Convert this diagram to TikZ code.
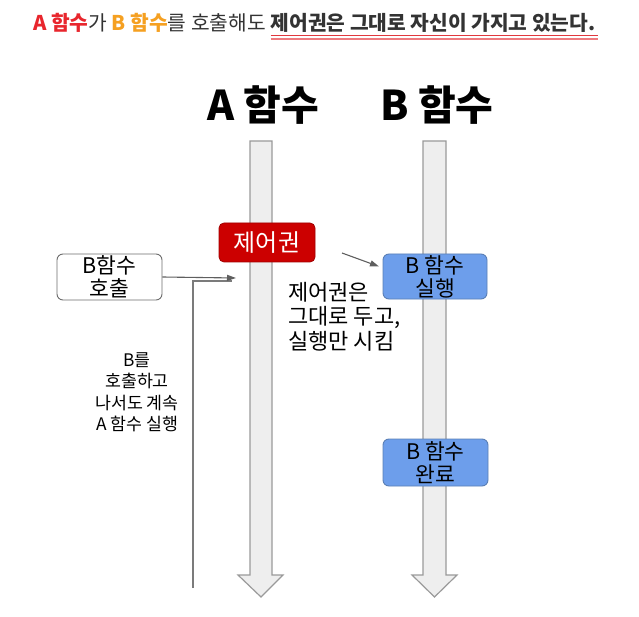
\documentclass[tikz,border=0pt]{standalone}
\usepackage{fontspec}
\setmainfont{Noto Sans CJK KR}
\usetikzlibrary{arrows.meta}
\definecolor{redA}{HTML}{E8262D}
\definecolor{orangeB}{HTML}{F5A021}
\definecolor{txtdark}{HTML}{333333}
\definecolor{ctrlred}{HTML}{CC0000}
\definecolor{ctrledge}{HTML}{A00000}
\definecolor{bblue}{HTML}{6D9EEB}
\definecolor{bedge}{HTML}{5A7FB5}
\definecolor{arrowfill}{HTML}{EEEEEE}
\definecolor{arrowline}{HTML}{9A9A9A}
\definecolor{connline}{HTML}{5F5F5F}
\definecolor{ulred}{HTML}{E0383E}
\definecolor{ulred2}{HTML}{EE7A7E}
\tikzset{
  hdr/.style={inner sep=0pt, font=\fontsize{20.3}{24}\selectfont},
  titletxt/.style={inner sep=0pt, font=\fontsize{41}{46}\selectfont\bfseries},
  flowarrow/.style={draw=arrowline, fill=arrowfill, line width=1.2pt, line join=miter},
  callbox/.style={draw=gray!85!black, fill=white, rounded corners=6pt, line width=0.9pt,
    align=center, inner sep=0pt, font=\fontsize{21.5}{23}\selectfont},
  ctrlbox/.style={draw=ctrledge, fill=ctrlred, rounded corners=5pt, line width=0.8pt,
    text=white, inner sep=0pt, font=\fontsize{24}{27}\selectfont},
  bluebox/.style={draw=bedge, fill=bblue, rounded corners=6pt, line width=0.9pt,
    align=center, inner sep=0pt, font=\fontsize{21.5}{23}\selectfont},
  note/.style={inner sep=0pt, font=\fontsize{22}{24.5}\selectfont},
  sidenote/.style={inner sep=0pt, align=center, font=\fontsize{17.3}{21.5}\selectfont},
  conn/.style={draw=connline, line width=1.1pt, -{Triangle[length=9pt,width=6pt]}},
  plainline/.style={draw=arrowline!80!black, line width=1.2pt},
}
\begin{document}
\begin{tikzpicture}[x=1pt,y=-1pt]
\useasboundingbox (0,0) rectangle (639,617);

% header
\node[hdr, anchor=base west] (h1) at (33,31)
  {{\bfseries\color{redA}A 함수}{\color{txtdark}가 }{\bfseries\color{orangeB}B 함수}{\color{txtdark}를 호출해도 }};
\node[hdr, anchor=base west] (h2) at (h1.base east)
  {\bfseries\color{txtdark}제어권은 그대로 자신이 가지고 있는다.};
\draw[ulred, line width=1.6pt] ([yshift=-4.5pt]h2.base west) -- ([yshift=-4.5pt,xshift=2pt]h2.base east);
\draw[ulred2, line width=1.6pt] ([yshift=-8pt]h2.base west) -- ([yshift=-8pt,xshift=2pt]h2.base east);

% titles
\node[titletxt] (ta) at (263,105) {A 함수};
\node[titletxt] (tb) at (437,105) {B 함수};

% big flow arrows
\draw[flowarrow] (250,141) -- (272,141) -- (272,575) -- (283,575) -- (261,597) -- (238,575) -- (250,575) -- cycle;
\draw[flowarrow] (423,141) -- (446,141) -- (446,575) -- (457,575) -- (434.5,597) -- (412,575) -- (423,575) -- cycle;

% L-shaped line
\coordinate (lbot) at (193,588);
\coordinate (lcorner) at (193,281);
\coordinate (lend) at (232,281);
\draw[plainline] (lbot) -- (lcorner) -- (lend);

% boxes
\node[callbox, minimum width=105pt, minimum height=46pt] (call) at (109.5,277) {B함수\\호출};
\node[ctrlbox, minimum width=96pt, minimum height=39pt] (ctrl) at (267,242.5) {제어권};
\node[bluebox, minimum width=104pt, minimum height=45pt] (run) at (435,276.5) {B 함수\\실행};
\node[bluebox, minimum width=105pt, minimum height=47pt] (done) at (435.5,462.5) {B 함수\\완료};

% connectors
\coordinate (callend) at (236,278);
\draw[conn] (call.east) -- (callend);
\coordinate (s1) at (342,253);
\coordinate (s2) at (379,266.5);
\draw[conn] (s1) -- (s2);

% notes
\node[note, anchor=north west, align=left] (keep) at (288,282) {제어권은\\그대로 두고,\\실행만 시킴};
\node[sidenote] (cont) at (137,392.5) {B를\\호출하고\\나서도 계속\\A 함수 실행};
\end{tikzpicture}
\end{document}
